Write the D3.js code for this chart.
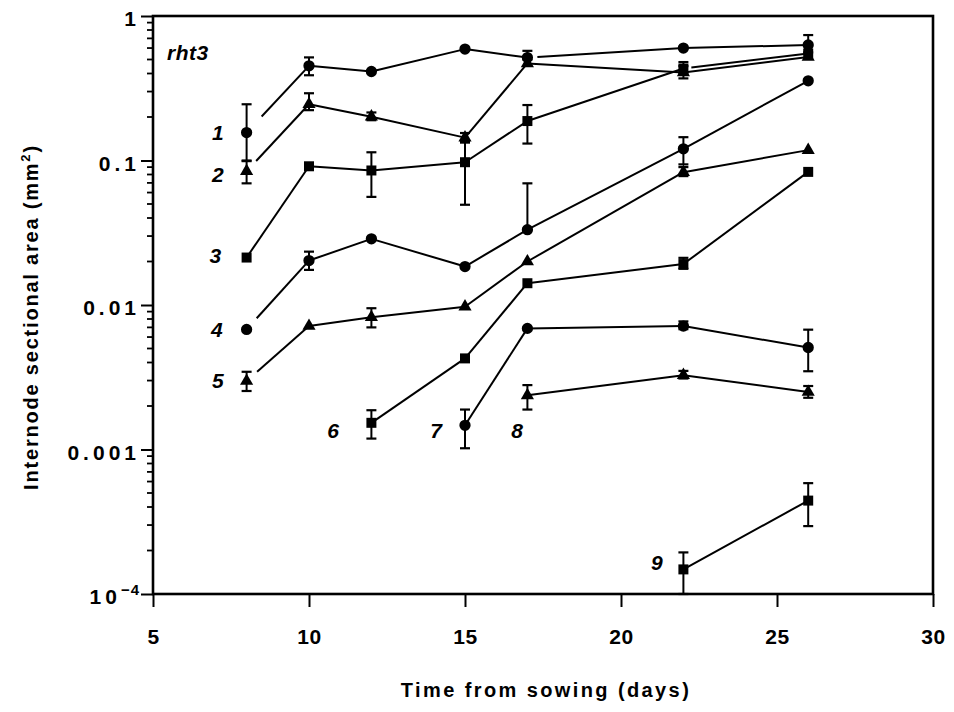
<!DOCTYPE html>
<html>
<head>
<meta charset="utf-8">
<script src="https://cdn.jsdelivr.net/npm/d3@7"></script>
<style>
  html, body { margin: 0; padding: 0; background: #fff; }
  svg { display: block; }
  text { font-family: "Liberation Sans", Arial, sans-serif; fill: #000; }
</style>
</head>
<body>
<svg id="chart" width="954" height="712"></svg>
<script>
// ---------- data ----------
const days = [8, 10, 12, 15, 17, 22, 26];
const seriesNames = ["1", "2", "3", "4", "5", "6", "7", "8", "9"];
const markerTypes = ["circle", "triangle", "square", "circle", "triangle", "square", "circle", "triangle", "square"];

const s1 = [0.156, 0.452, 0.413, 0.59, 0.516, 0.60, 0.63];
const s2 = [0.0843, 0.245, 0.201, 0.144, 0.47, 0.406, 0.52];
const s3 = [0.0213, 0.0912, 0.0853, 0.0973, 0.1875, 0.433, 0.55];
const s4 = [0.00678, 0.0203, 0.0287, 0.01845, 0.0332, 0.1205, 0.356];
const s5 = [0.00298, 0.00715, 0.00822, 0.00973, 0.020, 0.083, 0.118];
const s6 = [null, null, 0.00153, 0.00427, 0.01415, 0.0192, 0.0834];
const s7 = [null, null, null, 0.00147, 0.00689, 0.00715, 0.00508];
const s8 = [null, null, null, null, 0.00237, 0.00327, 0.0025];
const s9 = [null, null, null, null, null, 0.000148, 0.000443];

// error bars: [low, high] or null
const e1 = [[0.100, 0.245], [0.389, 0.517], null, null, [0.50, 0.574], null, [0.56, 0.738]];
const e2 = [[0.0695, 0.099], [0.223, 0.292], [0.19, 0.215], [0.135, 0.155], null, [0.37, 0.45], null];
const e3 = [null, null, [0.056, 0.114], [0.0494, 0.133], [0.131, 0.242], [0.40, 0.48], null];
const e4 = [null, [0.0175, 0.0234], null, null, [0.0332, 0.0695], [0.094, 0.145], null];
const e5 = [[0.00254, 0.00345], null, [0.0070, 0.0095], null, null, [0.078, 0.09], null];
const e6 = [null, null, [0.00119, 0.00187], null, null, [0.0178, 0.0212], null];
const e7 = [null, null, null, [0.00102, 0.00189], null, [0.0068, 0.0077], [0.00348, 0.00675]];
const e8 = [null, null, null, null, [0.00189, 0.00279], [0.0031, 0.0035], [0.00228, 0.00275]];
const e9 = [null, null, null, null, null, [0.0001, 0.000194], [0.000295, 0.000585]];

// series label positions (data coordinates)
const labelX = [7.08, 7.08, 7.0, 7.05, 7.08, 10.77, 14.07, 16.67, 21.15];
const labelY = [0.156, 0.080, 0.022, 0.0068, 0.0030, 0.00136, 0.00136, 0.00136, 0.000164];

const xTicks = [5, 10, 15, 20, 25, 30];
const yTicks = [1e-4, 1e-3, 1e-2, 1e-1, 1];
const yTickLabels = ["10-4", "0.001", "0.01", "0.1", "1"];

const allSeries = [s1, s2, s3, s4, s5, s6, s7, s8, s9];
const allErrors = [e1, e2, e3, e4, e5, e6, e7, e8, e9];

// ---------- layout ----------
const margin = { left: 153, right: 21, top: 16, bottom: 118 };
const W = 954, H = 712;
const svg = d3.select("#chart");

const x = d3.scaleLinear().domain([5, 30]).range([margin.left, W - margin.right]);
const y = d3.scaleLog().domain([1e-4, 1]).range([H - margin.bottom, margin.top]);

// frame
svg.append("rect")
  .attr("x", x(5)).attr("y", y(1))
  .attr("width", x(30) - x(5)).attr("height", y(1e-4) - y(1))
  .attr("fill", "none").attr("stroke", "#000").attr("stroke-width", 2.6);

// x axis
const xAxis = d3.axisBottom(x).tickValues(xTicks).tickSize(13).tickPadding(22).tickFormat(d3.format("d"));
const gx = svg.append("g").attr("transform", `translate(0,${y(1e-4)})`).call(xAxis);
gx.select(".domain").remove();
gx.selectAll(".tick line").attr("stroke", "#000").attr("stroke-width", 2);
gx.selectAll(".tick text").attr("font-size", 21).attr("font-weight", "bold")
  .attr("letter-spacing", "0.5px").attr("font-family", "'Liberation Sans', Arial, sans-serif");

// y axis major
const yAxis = d3.axisLeft(y).tickValues(yTicks).tickSize(12).tickPadding(8).tickFormat("");
const gy = svg.append("g").attr("transform", `translate(${x(5)},0)`).call(yAxis);
gy.select(".domain").remove();
gy.selectAll(".tick line").attr("stroke", "#000").attr("stroke-width", 2);

// y minor ticks
const minor = [];
for (let e = -4; e < 0; e++) for (let m = 2; m <= 9; m++) minor.push(m * Math.pow(10, e));
svg.append("g").selectAll("line").data(minor).join("line")
  .attr("x1", x(5) - 6).attr("x2", x(5))
  .attr("y1", d => y(d)).attr("y2", d => y(d))
  .attr("stroke", "#000").attr("stroke-width", 1.8);

// y tick labels
const yl = svg.append("g").selectAll("text").data(yTicks).join("text")
  .attr("x", x(5) - 13).attr("y", d => y(d) + 3).attr("dy", "0.35em")
  .attr("text-anchor", "end").attr("font-size", 21).attr("font-weight", "bold")
  .attr("letter-spacing", "4px");
yl.each(function (d, i) {
  const t = d3.select(this);
  const lab = yTickLabels[i];
  if (lab === "10-4") {
    t.append("tspan").text("10");
    t.append("tspan").text("−4").attr("font-size", 15).attr("dy", "-0.6em").attr("letter-spacing", "1px");
  } else {
    t.text(lab);
  }
});

// axis titles
svg.append("text")
  .attr("x", (x(5) + x(30)) / 2 + 3).attr("y", 697)
  .attr("text-anchor", "middle").attr("font-size", 20).attr("font-weight", "bold")
  .attr("letter-spacing", "2.4px")
  .text("Time from sowing (days)");

const yt = svg.append("text")
  .attr("transform", `translate(38,${(y(1) + y(1e-4)) / 2 + 12}) rotate(-90)`)
  .attr("text-anchor", "middle").attr("font-size", 20).attr("font-weight", "bold")
  .attr("letter-spacing", "1.8px");
yt.append("tspan").text("Internode sectional area (mm");
yt.append("tspan").text("2").attr("font-size", 13).attr("dy", "-0.6em");
yt.append("tspan").text(")").attr("dy", "0.4em");

// rht3 label
svg.append("text").attr("x", 167).attr("y", 60)
  .attr("font-size", 21).attr("font-style", "italic").attr("font-weight", "bold")
  .attr("letter-spacing", "0.5px")
  .text("rht3");

// ---------- series ----------
// segments whose start is drawn short of the marker (series index, segment index, gap px)
const startGaps = [[0, 0, 22], [1, 0, 14], [3, 0, 15], [4, 0, 14], [0, 4, 10], [2, 5, 8]];

const plot = svg.append("g");
allSeries.forEach((s, si) => {
  const pts = days.map((d, i) => ({ d, v: s[i], e: allErrors[si][i], i })).filter(p => p.v != null);
  // line segments
  for (let k = 0; k < pts.length - 1; k++) {
    let x1 = x(pts[k].d), y1 = y(pts[k].v), x2 = x(pts[k + 1].d), y2 = y(pts[k + 1].v);
    const g = startGaps.find(q => q[0] === si && q[1] === pts[k].i);
    if (g) {
      const len = Math.hypot(x2 - x1, y2 - y1);
      x1 += (x2 - x1) * g[2] / len; y1 += (y2 - y1) * g[2] / len;
    }
    plot.append("line").attr("x1", x1).attr("y1", y1).attr("x2", x2).attr("y2", y2)
      .attr("stroke", "#000").attr("stroke-width", 2);
  }
  // error bars
  pts.filter(p => p.e).forEach(p => {
    const cx = x(p.d), lo = y(p.e[0]), hi = y(p.e[1]);
    plot.append("line").attr("x1", cx).attr("x2", cx).attr("y1", lo).attr("y2", hi)
      .attr("stroke", "#000").attr("stroke-width", 2);
    [lo, hi].forEach(yy => plot.append("line").attr("x1", cx - 5).attr("x2", cx + 5)
      .attr("y1", yy).attr("y2", yy).attr("stroke", "#000").attr("stroke-width", 2.2));
  });
  // markers
  const sym = markerTypes[si] === "circle" ? d3.symbolCircle
    : markerTypes[si] === "square" ? d3.symbolSquare : d3.symbolTriangle;
  const size = markerTypes[si] === "circle" ? 100 : markerTypes[si] === "square" ? 100 : 75;
  plot.selectAll(null).data(pts).join("path")
    .attr("transform", p => `translate(${x(p.d)},${y(p.v)})`)
    .attr("d", d3.symbol().type(sym).size(size))
    .attr("fill", "#000");
});

// series number labels
svg.append("g").selectAll("text").data(seriesNames).join("text")
  .attr("x", (d, i) => x(labelX[i])).attr("y", (d, i) => y(labelY[i]))
  .attr("dy", "0.35em").attr("text-anchor", "middle")
  .attr("font-size", 21).attr("font-style", "italic").attr("font-weight", "bold")
  .text(d => d);
</script>
</body>
</html>
